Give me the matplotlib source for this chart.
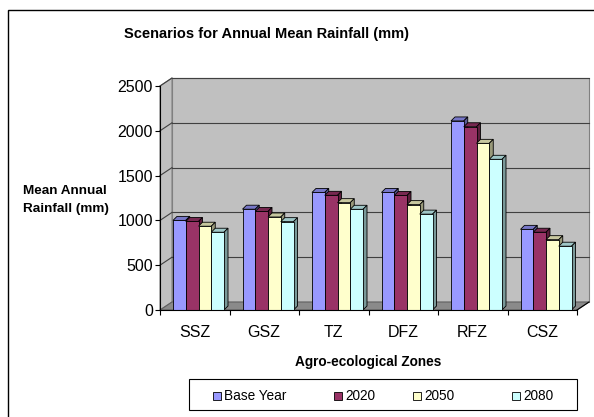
import matplotlib.pyplot as plt
from matplotlib.patches import Polygon, Rectangle
from matplotlib.colors import to_rgb

plt.rcParams['font.family'] = ['Liberation Sans', 'DejaVu Sans']

# Mean annual rainfall (mm) per agro-ecological zone
zones = ['SSZ', 'GSZ', 'TZ', 'DFZ', 'RFZ', 'CSZ']
base_year = [1000, 1125, 1312, 1312, 2110, 900]
y2020 = [988, 1100, 1280, 1278, 2045, 868]
y2050 = [935, 1038, 1198, 1176, 1860, 785]
y2080 = [868, 986, 1124, 1070, 1682, 712]

series = [base_year, y2020, y2050, y2080]
names = ['Base Year', '2020', '2050', '2080']
colors = ['#9999FF', '#993366', '#FFFFCC', '#CCFFFF']
yticks = [0, 500, 1000, 1500, 2000, 2500]

W, H = 594, 417
fig = plt.figure(figsize=(W / 100, H / 100), dpi=100)

# chart border (runs off the right and bottom)
fig.patches.append(Rectangle((8 / W, -0.1), 1.1, (H - 10) / H + 0.1, transform=fig.transFigure,
                             fill=False, edgecolor='black', linewidth=1.0))

# front plane of the plot in pixels
x0, x1, yb, yt = 160, 577, 310, 86
ax = fig.add_axes([x0 / W, (H - yb) / H, (x1 - x0) / W, (yb - yt) / H])
ax.set_xlim(-0.5, 5.5)
ax.set_ylim(0, 2500)
for s in ax.spines.values():
    s.set_visible(False)
ax.patch.set_visible(False)

px_x = 6.0 / (x1 - x0)      # data units per pixel, x
px_y = 2500.0 / (yb - yt)   # data units per pixel, y

# wall depth offset
wdx, wdy = 12 * px_x, 8 * px_y
wall = '#C0C0C0'
edge = '#808080'
ax.add_patch(Polygon([(-0.5 + wdx, wdy), (5.5 + wdx, wdy), (5.5 + wdx, 2500 + wdy), (-0.5 + wdx, 2500 + wdy)],
                     closed=True, facecolor=wall, edgecolor=edge, lw=0.8, clip_on=False, zorder=0))
ax.add_patch(Polygon([(-0.5, 0), (-0.5 + wdx, wdy), (-0.5 + wdx, 2500 + wdy), (-0.5, 2500)],
                     closed=True, facecolor=wall, edgecolor=edge, lw=0.8, clip_on=False, zorder=0))
ax.add_patch(Polygon([(-0.5, 0), (5.5, 0), (5.5 + wdx, wdy), (-0.5 + wdx, wdy)],
                     closed=True, facecolor='#8A8A8A', edgecolor='#606060', lw=0.8, clip_on=False, zorder=0.5))

# gridlines on back and side walls
for v in yticks[1:]:
    ax.plot([-0.5 + wdx, 5.5 + wdx], [v + wdy, v + wdy], color='#404040', lw=0.8, clip_on=False, zorder=0.2)
    ax.plot([-0.5, -0.5 + wdx], [v, v + wdy], color='#404040', lw=0.8, clip_on=False, zorder=0.2)

# 3D bars: front face via ax.bar, top and side faces as polygons
bw = 12.75 / 69.5
start = 13.0 / 69.5
bdx, bdy = 4 * px_x, 4 * px_y


def shade(c, f):
    r, g, b = to_rgb(c)
    return (r * f, g * f, b * f)


z = 2
for c in range(len(zones)):
    for i, (vals, col) in enumerate(zip(series, colors)):
        v = vals[c]
        left = c - 0.5 + start + i * bw
        ax.bar(left, v, width=bw, align='edge', color=col, edgecolor='black', lw=0.6, zorder=z + 1)
        ax.add_patch(Polygon([(left, v), (left + bw, v), (left + bw + bdx, v + bdy), (left + bdx, v + bdy)],
                             closed=True, facecolor=shade(col, 0.78), edgecolor='black', lw=0.6,
                             clip_on=False, zorder=z))
        ax.add_patch(Polygon([(left + bw, 0), (left + bw + bdx, bdy), (left + bw + bdx, v + bdy), (left + bw, v)],
                             closed=True, facecolor=shade(col, 0.6), edgecolor='black', lw=0.6,
                             clip_on=False, zorder=z))
        z += 2

# front axes lines
ax.plot([-0.5, -0.5], [0, 2500], color='black', lw=0.8, clip_on=False, zorder=100)
ax.plot([-0.5, 5.5], [0, 0], color='black', lw=0.8, clip_on=False, zorder=100)
ax.plot([5.5, 5.5 + wdx], [0, wdy], color='black', lw=0.8, clip_on=False, zorder=100)

ax.set_yticks(yticks)
ax.set_yticklabels([str(v) for v in yticks], fontsize=11.5)
ax.tick_params(axis='y', length=3.5, width=0.8, pad=1.5)
ax.set_xticks(range(len(zones)))
ax.set_xticklabels(zones, fontsize=11.5)
ax.set_xticks([c - 0.5 for c in range(len(zones) + 1)], minor=True)
ax.tick_params(axis='x', which='major', length=0, pad=11)
ax.tick_params(axis='x', which='minor', length=3.5, width=0.8)

fig.text(267 / W, 1 - 34 / H, 'Scenarios for Annual Mean Rainfall (mm)', fontsize=10.5,
         fontweight='bold', ha='center', va='center')
fig.text(23 / W, 1 - 200 / H, 'Mean Annual\nRainfall (mm)', fontsize=9.7, fontweight='bold',
         ha='left', va='center', linespacing=1.65)
fig.text(368 / W, 1 - 362 / H, 'Agro-ecological Zones', fontsize=9.8, fontweight='bold',
         ha='center', va='center')

# legend box
fig.patches.append(Rectangle((189 / W, 1 - 410 / H), (577 - 189) / W, 31 / H, transform=fig.transFigure,
                             fill=False, edgecolor='black', linewidth=0.8))
for name, col, mx in zip(names, colors, [213, 334, 413, 512]):
    fig.patches.append(Rectangle((mx / W, 1 - 400 / H), 8 / W, 8 / H, transform=fig.transFigure,
                                 facecolor=col, edgecolor='black', linewidth=0.6))
    fig.text((mx + 11) / W, 1 - 396 / H, name, fontsize=9.8, ha='left', va='center')

fig.savefig('out.png', dpi=100)
